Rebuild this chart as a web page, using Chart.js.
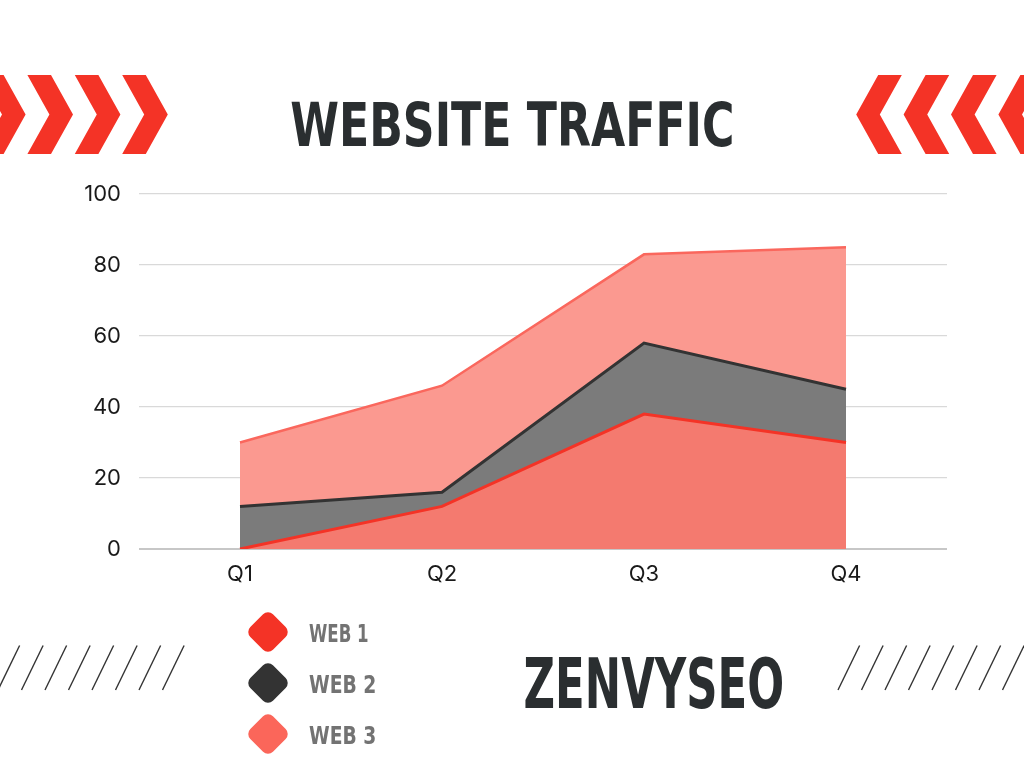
<!DOCTYPE html>
<html>
<head>
<meta charset="utf-8">
<script src="https://cdn.jsdelivr.net/npm/chart.js@4.4.0/dist/chart.umd.min.js"></script>
<style>
  html, body { margin: 0; padding: 0; background: #ffffff; }
  #wrap { width: 1024px; height: 768px; position: relative; }
</style>
</head>
<body>
<div id="wrap"><canvas id="grafico"></canvas></div>
<script>
const quarters = ["Q1", "Q2", "Q3", "Q4"];
const web1 = [0, 12, 38, 30];
const web2 = [12, 16, 58, 45];
const web3 = [30, 46, 83, 85];
const seriesNames = ["WEB 1", "WEB 2", "WEB 3"];
const yMin = 0, yMax = 100, yStep = 20;

const titleText = "WEBSITE TRAFFIC";
const brandText = "ZENVYSEO";

const red = "#f43326";
const dark = "#2a2e30";
const condensed = "'DejaVu Sans Condensed', 'Liberation Sans Narrow', 'DejaVu Sans', sans-serif";
const tickFont = { family: "Inter, 'Open Sans', sans-serif", size: 22 };

// draws bold condensed text squeezed into a box (cap height x width)
function fitText(ctx, text, x1, x2, capTop, capBottom, color) {
    ctx.save();
    ctx.font = "bold 100px " + condensed;
    let m = ctx.measureText(text);
    let size = 100 * (capBottom - capTop) / m.actualBoundingBoxAscent;
    ctx.font = "bold " + size + "px " + condensed;
    m = ctx.measureText(text);
    let w = m.actualBoundingBoxLeft + m.actualBoundingBoxRight;
    let sx = (x2 - x1) / w;
    ctx.translate(x1, capBottom);
    ctx.scale(sx, 1);
    ctx.fillStyle = color;
    ctx.textBaseline = "alphabetic";
    ctx.textAlign = "left";
    ctx.fillText(text, m.actualBoundingBoxLeft, 0);
    ctx.restore();
}

function chevrons(ctx, flip) {
    ctx.save();
    ctx.fillStyle = red;
    [-20, 27.4, 74.8, 122.2].forEach(x0 => {
        let pts = [[x0, 75], [x0 + 23.6, 75], [x0 + 45.6, 114.5], [x0 + 23.6, 154], [x0, 154], [x0 + 22, 114.5]];
        ctx.beginPath();
        pts.forEach((p, i) => {
            let x = flip ? 1024 - p[0] : p[0];
            if (i === 0) ctx.moveTo(x, p[1]); else ctx.lineTo(x, p[1]);
        });
        ctx.closePath();
        ctx.fill();
    });
    ctx.restore();
}

function hatch(ctx, startX) {
    ctx.save();
    ctx.strokeStyle = "#333333";
    ctx.lineWidth = 1.4;
    for (let i = 0; i < 8; i++) {
        let bx = startX + i * 23.5;
        ctx.beginPath();
        ctx.moveTo(bx, 690);
        ctx.lineTo(bx + 21.6, 645.5);
        ctx.stroke();
    }
    ctx.restore();
}

const decoracao = {
    id: "decoracao",
    afterDraw(chart) {
        const ctx = chart.ctx;
        chevrons(ctx, false);
        chevrons(ctx, true);
        hatch(ctx, -2);
        hatch(ctx, 838);
        fitText(ctx, titleText, 291, 732, 100.5, 146, dark);
        fitText(ctx, brandText, 525, 782, 656, 708, dark);

        // legend
        const centers = [632, 683, 734];
        chart.data.datasets.forEach((ds, i) => {
            const cy = centers[i];
            ctx.save();
            ctx.translate(268, cy);
            ctx.rotate(Math.PI / 4);
            ctx.fillStyle = ds.legendColor;
            ctx.beginPath();
            ctx.roundRect(-16, -16, 32, 32, 7);
            ctx.fill();
            ctx.restore();
            fitText(ctx, ds.label, 309, i === 0 ? 368 : 375, cy - 9, cy + 9.5, "#737373");
        });
    }
};

const ctx = document.getElementById("grafico").getContext("2d");
const grafico = new Chart(ctx, {
    type: "line",
    data: {
        labels: quarters,
        datasets: [
            { label: seriesNames[0], data: web1, borderColor: "#f43326", backgroundColor: "#f47a6f", legendColor: "#f43326", borderWidth: 3, fill: "origin" },
            { label: seriesNames[1], data: web2, borderColor: "#333333", backgroundColor: "#7b7b7b", legendColor: "#333333", borderWidth: 3, fill: "origin" },
            { label: seriesNames[2], data: web3, borderColor: "#fa675d", backgroundColor: "#fb9990", legendColor: "#fb665a", borderWidth: 2.5, fill: "origin" }
        ]
    },
    options: {
        responsive: true,
        maintainAspectRatio: false,
        animation: false,
        events: [],
        elements: {
            point: { radius: 0 },
            line: { tension: 0, borderJoinStyle: "miter" }
        },
        layout: { padding: { left: 0, right: 77, top: 194, bottom: 179 } },
        plugins: {
            legend: { display: false },
            tooltip: { enabled: false },
            title: { display: false }
        },
        scales: {
            x: {
                offset: true,
                grid: { display: false },
                border: { display: false },
                ticks: { color: "#1a1a1a", padding: 4, font: tickFont },
                afterFit(scale) { scale.height = 40; }
            },
            y: {
                min: yMin,
                max: yMax,
                z: 1,
                border: { display: false },
                grid: {
                    drawTicks: false,
                    color: c => c.tick && c.tick.value === 0 ? "rgba(0,0,0,0.22)" : "rgba(0,0,0,0.15)",
                    lineWidth: c => c.tick && c.tick.value === 0 ? 2 : 1.2
                },
                ticks: { stepSize: yStep, color: "#1a1a1a", padding: 18, font: tickFont },
                afterFit(scale) { scale.width = 139; }
            }
        }
    },
    plugins: [decoracao]
});
</script>
</body>
</html>
